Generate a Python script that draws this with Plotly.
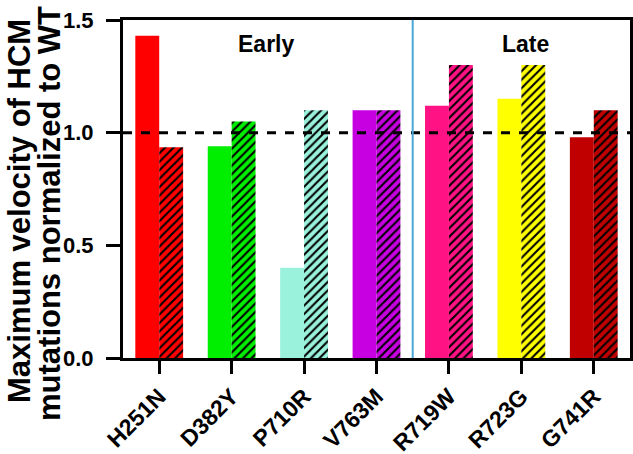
import plotly.graph_objects as go

categories = ["H251N", "D382Y", "P710R", "V763M", "R719W", "R723G", "G741R"]
solid_values = [1.43, 0.94, 0.40, 1.10, 1.12, 1.15, 0.98]
hatched_values = [0.935, 1.05, 1.10, 1.10, 1.30, 1.30, 1.10]
colors = ["#ff0000", "#00ee00", "#9af2dc", "#c600e0", "#ff1283", "#ffff00", "#c00000"]
group_labels = ["Early", "Late"]
y_title_lines = ["Maximum velocity of HCM", "mutations normalized to WT"]

FONT = "Liberation Sans, Arial, sans-serif"

# plot-area pixel geometry (for placing the title annotations)
L, R, T, B = 123, 3, 20, 96
W, H = 633, 454
PW, PH = W - L - R, H - T - B

fig = go.Figure()
fig.add_trace(go.Bar(
    x=categories, y=solid_values,
    marker=dict(color=colors, line=dict(width=0)),
    showlegend=False,
))
fig.add_trace(go.Bar(
    x=categories, y=hatched_values,
    marker=dict(color="rgba(0,0,0,0)", line=dict(width=0),
                pattern=dict(shape="/", fillmode="replace",
                             bgcolor=colors, fgcolor="black",
                             fgopacity=1, size=6, solidity=0.35)),
    showlegend=False,
))

# reference line at 1.0
fig.add_shape(type="line", xref="paper", yref="y", x0=0, x1=1, y0=1.0, y1=1.0,
              line=dict(color="black", width=3, dash="dash"))
# separator between early and late
fig.add_shape(type="line", xref="x", yref="paper", x0=3.5, x1=3.5, y0=0, y1=1,
              line=dict(color="#4aa8d8", width=2))

fig.add_annotation(x=1.48, y=1.395, xref="x", yref="y", text="<b>%s</b>" % group_labels[0],
                   showarrow=False, font=dict(family=FONT, size=23, color="black"))
fig.add_annotation(x=5.06, y=1.395, xref="x", yref="y", text="<b>%s</b>" % group_labels[1],
                   showarrow=False, font=dict(family=FONT, size=23, color="black"))

# two-line y axis title, placed as rotated annotations
for line_text, px_x, px_y in [(y_title_lines[0], 19, 211), (y_title_lines[1], 49, 214)]:
    fig.add_annotation(
        x=(px_x - L) / PW, y=(H - B - px_y) / PH, xref="paper", yref="paper",
        text="<b>%s</b>" % line_text, textangle=-90, showarrow=False,
        xanchor="center", yanchor="middle",
        font=dict(family=FONT, size=31, color="black"),
    )

fig.update_layout(
    width=W, height=H,
    margin=dict(l=L, r=R, t=T, b=B, autoexpand=False),
    plot_bgcolor="white", paper_bgcolor="white",
    barmode="group", bargap=0.34, bargroupgap=0,
    font=dict(family=FONT, color="black"),
    xaxis=dict(
        range=[-0.5, 6.5], showline=True, linewidth=3, linecolor="black", mirror=True,
        ticks="outside", ticklen=13, tickwidth=3, tickcolor="black",
        tickangle=-45, tickfont=dict(family=FONT, size=23, color="black", weight="bold"),
        ticklabelstandoff=0, automargin=False,
        showgrid=False, zeroline=False,
    ),
    yaxis=dict(
        range=[0, 1.5], tickvals=[0, 0.5, 1.0, 1.5], ticktext=["0.0", "0.5", "1.0", "1.5"],
        showline=True, linewidth=3, linecolor="black", mirror=True,
        ticks="outside", ticklen=14, tickwidth=3, tickcolor="black",
        tickfont=dict(family=FONT, size=22, color="black", weight="bold"),
        ticklabelstandoff=8, automargin=False,
        showgrid=False, zeroline=False,
    ),
)

fig.write_html("out.html", config={"displayModeBar": False},
               post_script="document.body.style.margin='0';")
